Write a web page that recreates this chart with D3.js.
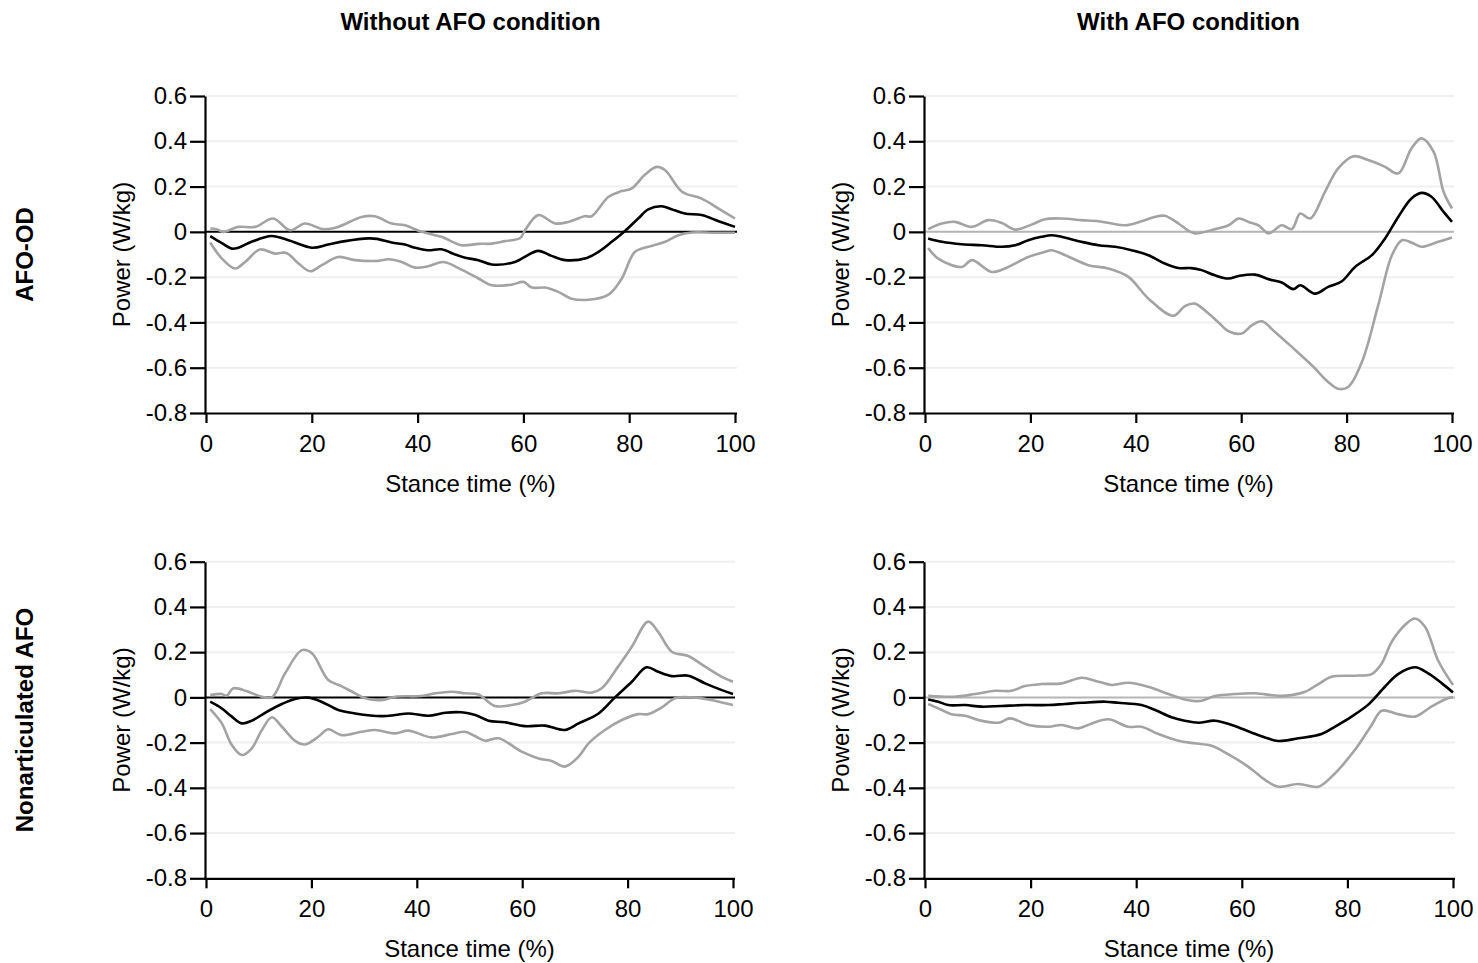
<!DOCTYPE html>
<html>
<head>
<meta charset="utf-8">
<script src="https://cdn.jsdelivr.net/npm/d3@7"></script>
<style>
  html, body { margin: 0; padding: 0; background: #fff; }
  svg { display: block; font-family: Arial, "Liberation Sans", sans-serif; }
</style>
</head>
<body>
<svg id="chart" width="1478" height="963"></svg>
<script>
// ---------------- DATA ----------------
const xTicks = [0, 20, 40, 60, 80, 100];
const yTicks = [-0.8, -0.6, -0.4, -0.2, 0, 0.2, 0.4, 0.6];
const colTitles = ["Without AFO condition", "With AFO condition"];
const rowTitles = ["AFO-OD", "Nonarticulated AFO"];
const xLabel = "Stance time (%)";
const yLabel = "Power (W/kg)";

// AFO-OD, without AFO condition
const odWithoutMean = [[0.8,-0.019],[3,-0.05],[4.9,-0.074],[6.1,-0.07],[8.6,-0.044],[12.4,-0.018],[15.6,-0.037],[20,-0.07],[23.1,-0.056],[26.3,-0.041],[30.7,-0.029],[32.3,-0.031],[35.1,-0.047],[37.6,-0.056],[39.5,-0.07],[42,-0.081],[44.5,-0.077],[47.1,-0.1],[49,-0.114],[51.5,-0.125],[54,-0.144],[58.4,-0.133],[60.3,-0.11],[62.8,-0.084],[65.3,-0.106],[67.9,-0.125],[72,-0.115],[74.2,-0.088],[76.7,-0.044],[79.2,0.004],[81.7,0.059],[83.6,0.099],[86.1,0.113],[88,0.1],[90.5,0.081],[93.7,0.074],[96.9,0.047],[100,0.022]];
const odWithoutUpper = [[0.8,0.015],[2,0.012],[3.3,0],[6.1,0.022],[9.3,0.022],[12.7,0.059],[15.9,0.007],[18.7,0.037],[22.2,0.012],[25,0.022],[29.4,0.066],[31.9,0.069],[35.1,0.037],[37.6,0.029],[40.8,0],[44.5,-0.022],[48.3,-0.059],[51.5,-0.053],[54,-0.052],[56.5,-0.041],[59.4,-0.027],[60.3,0.007],[62.8,0.074],[66,0.037],[68.5,0.044],[71.6,0.069],[72.9,0.069],[76.1,0.155],[78.6,0.18],[80.5,0.192],[83,0.253],[85.2,0.287],[86.8,0.272],[90,0.177],[93.7,0.147],[96.9,0.103],[100,0.059]];
const odWithoutLower = [[0.8,-0.047],[3,-0.118],[5.5,-0.162],[7.4,-0.133],[10.2,-0.078],[13,-0.096],[15.2,-0.093],[17.5,-0.14],[19.7,-0.174],[21.9,-0.147],[25,-0.111],[28.2,-0.125],[32.6,-0.128],[34.5,-0.121],[37,-0.133],[39.5,-0.158],[42,-0.152],[44.9,-0.133],[48.3,-0.167],[51.5,-0.206],[54,-0.236],[57.8,-0.233],[60,-0.221],[61.6,-0.246],[64.1,-0.246],[66.6,-0.265],[69.1,-0.295],[72.3,-0.3],[76.1,-0.277],[78.6,-0.206],[81.1,-0.088],[84.2,-0.062],[86.8,-0.044],[89.3,-0.015],[91.8,-0.003],[96.2,-0.004],[100,-0.004]];

// AFO-OD, with AFO condition
const odWithMean = [[0.6,-0.029],[3.2,-0.044],[7,-0.055],[10.8,-0.059],[14.5,-0.066],[17.1,-0.059],[19.6,-0.037],[22.1,-0.022],[24,-0.015],[25.9,-0.022],[29.7,-0.044],[32.9,-0.059],[36.1,-0.066],[39.2,-0.081],[42.4,-0.103],[45.5,-0.14],[48.1,-0.16],[50.5,-0.16],[52.5,-0.169],[55,-0.192],[57.6,-0.206],[59.5,-0.195],[62.6,-0.189],[65.2,-0.209],[67.7,-0.224],[69.9,-0.253],[71.2,-0.236],[74,-0.273],[76.5,-0.243],[79.1,-0.218],[81.6,-0.155],[84.8,-0.103],[87.3,-0.029],[89.8,0.066],[92.3,0.147],[94.2,0.172],[96.1,0.155],[98.4,0.088],[100,0.044]];
const odWithUpper = [[0.6,0.012],[3.2,0.037],[5.7,0.044],[8.9,0.022],[12,0.052],[14.5,0.04],[17.1,0.01],[20.2,0.032],[22.8,0.056],[25.9,0.059],[29.7,0.052],[32.9,0.047],[35.4,0.037],[38,0.029],[41.1,0.047],[43.6,0.066],[45.5,0.071],[48.1,0.037],[49.8,0.008],[51.2,-0.007],[55,0.012],[57.6,0.029],[59.5,0.059],[61.4,0.044],[63.3,0.029],[65.2,-0.007],[67.7,0.029],[69.6,0.012],[71.2,0.081],[73.1,0.059],[75.9,0.177],[78.4,0.28],[81.3,0.334],[84.1,0.317],[87.3,0.287],[89.8,0.258],[92.3,0.368],[94.2,0.413],[96.5,0.354],[98.4,0.177],[100,0.103]];
const odWithLower = [[0.6,-0.071],[2.5,-0.118],[7,-0.155],[8.9,-0.125],[12.7,-0.177],[15.8,-0.155],[19.6,-0.111],[22.8,-0.088],[24,-0.081],[26.6,-0.103],[31,-0.147],[34.8,-0.162],[38.6,-0.199],[42.4,-0.295],[47.1,-0.371],[49.3,-0.328],[51.2,-0.317],[53.8,-0.361],[55.7,-0.4],[57.6,-0.439],[60.1,-0.449],[62,-0.413],[63.9,-0.395],[66.4,-0.442],[69.6,-0.508],[73.4,-0.589],[76.5,-0.663],[78.4,-0.693],[80.3,-0.685],[82.9,-0.575],[86,-0.324],[88.6,-0.103],[90.5,-0.037],[92.3,-0.047],[94.2,-0.066],[97.4,-0.044],[100,-0.025]];

// Nonarticulated AFO, without AFO condition
const naWithoutMean = [[0.8,-0.019],[3,-0.049],[4.9,-0.085],[6.8,-0.115],[8.7,-0.103],[11.2,-0.068],[14.4,-0.029],[16.9,-0.007],[19.4,-0.001],[21.9,-0.019],[25.1,-0.056],[28.3,-0.071],[33.3,-0.083],[35.9,-0.078],[38.4,-0.071],[42.2,-0.081],[45.4,-0.068],[48.5,-0.066],[51.1,-0.078],[53.6,-0.103],[56.7,-0.11],[60.5,-0.127],[64.3,-0.125],[68.1,-0.144],[70.7,-0.115],[74.5,-0.071],[77.6,0],[80.8,0.069],[83.6,0.133],[85.8,0.113],[88.4,0.094],[91.5,0.096],[94.7,0.062],[97.9,0.032],[100,0.015]];
const naWithoutUpper = [[0.8,0.01],[3,0.015],[3.9,0.007],[5.2,0.04],[8,0.025],[10.6,0.003],[12.5,0],[15,0.106],[18.2,0.209],[20.1,0.195],[23.2,0.077],[25.7,0.05],[28.3,0.018],[30.2,-0.004],[33.3,-0.012],[35.9,0.003],[40.9,0.006],[43.5,0.018],[46.6,0.025],[49.2,0.018],[51.7,0.013],[54.8,-0.038],[58,-0.034],[60.5,-0.019],[63.7,0.018],[66.9,0.018],[70,0.029],[73.2,0.021],[75.1,0.04],[78.2,0.136],[80.8,0.224],[83.9,0.335],[85.8,0.29],[88.4,0.202],[91.5,0.183],[94.7,0.136],[97.9,0.091],[100,0.069]];
const naWithoutLower = [[0.8,-0.052],[3,-0.115],[4.9,-0.211],[6.8,-0.255],[8.7,-0.225],[10.6,-0.144],[12.5,-0.088],[14.4,-0.13],[16.9,-0.192],[18.8,-0.208],[21.3,-0.174],[23.2,-0.141],[25.7,-0.167],[29.5,-0.152],[32.1,-0.144],[35.9,-0.159],[38.4,-0.147],[42.8,-0.177],[46.6,-0.162],[49.1,-0.152],[51,-0.171],[53,-0.192],[55.5,-0.181],[59.9,-0.24],[63.1,-0.27],[65.6,-0.281],[68.1,-0.306],[70.7,-0.262],[72.6,-0.203],[75.7,-0.144],[78.9,-0.1],[82,-0.074],[83.9,-0.074],[86.5,-0.044],[89,-0.004],[92.2,0],[95.3,-0.009],[100,-0.034]];

// Nonarticulated AFO, with AFO condition
const naWithMean = [[0.6,-0.009],[2.5,-0.019],[4.4,-0.034],[7.6,-0.034],[10.7,-0.041],[14.5,-0.038],[18.9,-0.034],[23.4,-0.034],[26.5,-0.029],[29.7,-0.024],[34.1,-0.019],[36.6,-0.024],[41,-0.034],[43.6,-0.056],[46.7,-0.088],[49.2,-0.103],[51.8,-0.112],[54.9,-0.103],[58.1,-0.122],[61.9,-0.156],[64.4,-0.177],[66.9,-0.193],[70.7,-0.181],[75.1,-0.162],[77.6,-0.13],[80.8,-0.085],[84,-0.031],[87.1,0.047],[89.6,0.103],[92.8,0.133],[95.3,0.106],[97.9,0.062],[100,0.022]];
const naWithUpper = [[0.6,0.007],[5.7,0.003],[9.5,0.015],[13.3,0.029],[16.4,0.029],[18.9,0.05],[22.1,0.059],[25.9,0.062],[29.7,0.087],[32.2,0.074],[35.4,0.055],[38.5,0.065],[42.3,0.047],[46.1,0.015],[49.2,-0.009],[52.1,-0.016],[54.9,0.006],[58.7,0.015],[62.5,0.018],[66.9,0.007],[69.4,0.01],[72,0.025],[74.5,0.059],[77,0.091],[81.4,0.096],[84.6,0.103],[86.5,0.15],[88.4,0.246],[90.9,0.32],[92.8,0.349],[94.7,0.312],[97.2,0.162],[100,0.055]];
const naWithLower = [[0.6,-0.029],[3.2,-0.056],[5,-0.075],[7.6,-0.081],[10.1,-0.1],[13.9,-0.112],[16.1,-0.093],[19.6,-0.122],[23.4,-0.13],[25.9,-0.122],[29,-0.137],[31.6,-0.115],[34.7,-0.097],[38.5,-0.13],[41,-0.13],[44.2,-0.162],[48,-0.192],[51.1,-0.203],[54.3,-0.214],[57.4,-0.251],[61.2,-0.306],[64.4,-0.365],[66.9,-0.395],[70.7,-0.383],[74.5,-0.395],[77,-0.351],[81.4,-0.233],[84.6,-0.122],[86.5,-0.059],[89.6,-0.074],[92.8,-0.085],[95.9,-0.041],[99,-0.004],[100,0]];

// ---------------- LAYOUT ----------------
const svg = d3.select("#chart");
const FONT = 24;

const panels = [
  { row: 0, col: 0, x0: 206, x1: 735, yTop: 96,    yBot: 413,   zero: "#000",    mean: odWithoutMean, upper: odWithoutUpper, lower: odWithoutLower },
  { row: 0, col: 1, x0: 925, x1: 1452, yTop: 96,   yBot: 413,   zero: "#b5b5b5", mean: odWithMean,    upper: odWithUpper,    lower: odWithLower },
  { row: 1, col: 0, x0: 206, x1: 733, yTop: 561.7, yBot: 878.3, zero: "#000",    mean: naWithoutMean, upper: naWithoutUpper, lower: naWithoutLower },
  { row: 1, col: 1, x0: 925, x1: 1453, yTop: 561.7, yBot: 878.3, zero: "#b5b5b5", mean: naWithMean,   upper: naWithUpper,    lower: naWithLower }
];

const yFmt = d => (Math.abs(d) < 1e-9 ? "0" : d.toFixed(1));

panels.forEach(p => {
  const x = d3.scaleLinear().domain([0, 100]).range([p.x0, p.x1]);
  const y = d3.scaleLinear().domain([-0.8, 0.6]).range([p.yBot, p.yTop]);
  const g = svg.append("g");

  // grid lines
  g.append("g").selectAll("line")
    .data(yTicks.filter(v => v > -0.8 && Math.abs(v) > 1e-9))
    .join("line")
    .attr("x1", p.x0).attr("x2", p.x1 + 2)
    .attr("y1", d => y(d)).attr("y2", d => y(d))
    .attr("stroke", "#efefef").attr("stroke-width", 2);

  // zero line
  g.append("line")
    .attr("x1", p.x0).attr("x2", p.x1 + 2)
    .attr("y1", y(0)).attr("y2", y(0))
    .attr("stroke", p.zero).attr("stroke-width", 2);

  const line = d3.line()
    .x(d => x(d[0])).y(d => y(d[1]))
    .curve(d3.curveCatmullRom.alpha(0.5));

  [p.upper, p.lower].forEach(s => {
    g.append("path").datum(s).attr("d", line)
      .attr("fill", "none").attr("stroke", "#a3a3a3").attr("stroke-width", 2.6)
      .attr("stroke-linejoin", "round");
  });
  g.append("path").datum(p.mean).attr("d", line)
    .attr("fill", "none").attr("stroke", "#000").attr("stroke-width", 2.6)
    .attr("stroke-linejoin", "round");

  // y axis
  const ya = g.append("g").attr("transform", `translate(${p.x0 - 1},0)`)
    .call(d3.axisLeft(y).tickValues(yTicks).tickFormat(yFmt).tickSize(15).tickSizeOuter(0).tickPadding(3));
  // x axis
  const xa = g.append("g").attr("transform", `translate(0,${p.yBot})`)
    .call(d3.axisBottom(x).tickValues(xTicks).tickFormat(d3.format("d")).tickSize(10).tickSizeOuter(0).tickPadding(12));
  [ya, xa].forEach(a => {
    a.select(".domain").attr("stroke", "#000").attr("stroke-width", 2.2);
    a.selectAll(".tick line").attr("stroke", "#000").attr("stroke-width", 2.2);
    a.selectAll(".tick text").attr("fill", "#000")
      .style("font-size", FONT + "px")
      .style("font-family", 'Arial, "Liberation Sans", sans-serif');
  });
  xa.select(".domain").attr("d", `M${p.x0 - 2},0.5H${p.x1 + 2}`);

  // axis titles
  g.append("text")
    .attr("x", (p.x0 + p.x1) / 2).attr("y", p.yBot + 79)
    .attr("text-anchor", "middle").attr("font-size", FONT).attr("fill", "#000")
    .text(xLabel);
  g.append("text")
    .attr("transform", `translate(${p.x0 - 76},${(p.yTop + p.yBot) / 2}) rotate(-90)`)
    .attr("text-anchor", "middle").attr("font-size", FONT).attr("fill", "#000")
    .text(yLabel);

  // column titles
  if (p.row === 0) {
    svg.append("text")
      .attr("x", (p.x0 + p.x1) / 2).attr("y", 30)
      .attr("text-anchor", "middle").attr("font-size", FONT).attr("font-weight", "bold")
      .attr("fill", "#000").text(colTitles[p.col]);
  }
  // row titles
  if (p.col === 0) {
    svg.append("text")
      .attr("transform", `translate(33,${(p.yTop + p.yBot) / 2}) rotate(-90)`)
      .attr("text-anchor", "middle").attr("font-size", FONT).attr("font-weight", "bold")
      .attr("fill", "#000").text(rowTitles[p.row]);
  }
});
</script>
</body>
</html>
